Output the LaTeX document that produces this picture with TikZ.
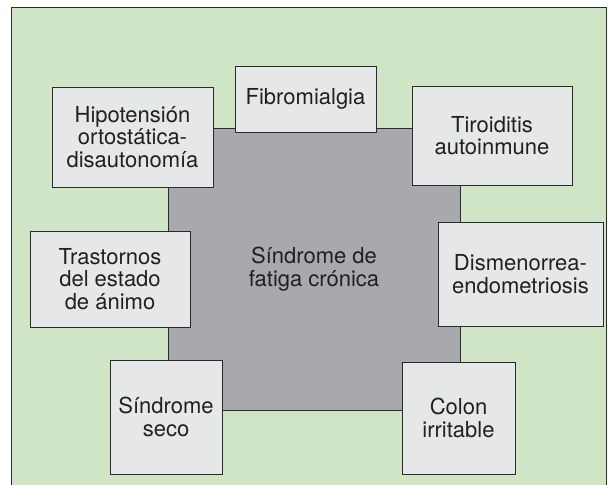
\documentclass[tikz,border=0pt]{standalone}
\usepackage{fontspec}
\setmainfont{TeX Gyre Heros}
\definecolor{verde}{HTML}{CFE5C5}
\definecolor{gris}{HTML}{A7A9AC}
\definecolor{cajagris}{HTML}{E6E7E8}
\definecolor{linea}{HTML}{2B2B2B}
\definecolor{texto}{HTML}{231F20}
\begin{document}
\begin{tikzpicture}[x=1pt,y=-1pt,
  caja/.style={draw=linea,fill=cajagris,line width=1pt,align=center,inner sep=0pt,
    text=texto,font=\fontsize{22}{22.5}\selectfont}]
\useasboundingbox (0,0) rectangle (614,485);
\fill[verde] (11,7) rectangle (606,485);
\draw[linea,line width=1pt] (11,485) -- (11,7) -- (606,7) -- (606,485);
\node[caja,fill=gris,minimum width=292pt,minimum height=282pt] (sfc) at (314,269) {Síndrome de\\fatiga crónica};
\node[caja,minimum width=141pt,minimum height=66pt] (fibro) at (305.5,99) {Fibromialgia};
\node[caja,minimum width=161pt,minimum height=100pt] (hipo) at (132.5,137) {Hipotensión\\ortostática-\\disautonomía};
\node[caja,minimum width=160pt,minimum height=99pt] (tiro) at (492,135.5) {Tiroiditis\\autoinmune};
\node[caja,minimum width=160pt,minimum height=96pt] (tras) at (110,279) {Trastornos\\del estado\\de ánimo};
\node[caja,minimum width=165pt,minimum height=104pt] (dism) at (520.5,274) {Dismenorrea-\\endometriosis};
\node[caja,minimum width=112pt,minimum height=114pt] (seco) at (166,417) {Síndrome\\seco};
\node[caja,minimum width=113pt,minimum height=112pt] (colon) at (458.5,418) {Colon\\irritable};
\end{tikzpicture}
\end{document}
